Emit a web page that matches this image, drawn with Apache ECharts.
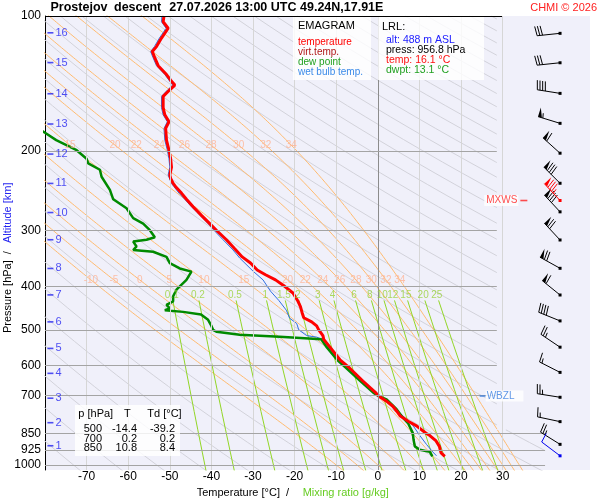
<!DOCTYPE html>
<html>
<head>
<meta charset="utf-8">
<script src="https://cdn.jsdelivr.net/npm/echarts@6/dist/echarts.min.js"></script>
<style>
  html, body { margin: 0; background: #fff; }
  #chart { width: 600px; height: 500px; }
</style>
</head>
<body>
<div id="chart"></div>
<script>
// axes
const pressureTicks = [100, 200, 300, 400, 500, 600, 700, 850, 925, 1000];
const tempTicks = [-70, -60, -50, -40, -30, -20, -10, 0, 10, 20, 30];
const altKm = [1, 2, 3, 4, 5, 6, 7, 8, 9, 10, 11, 12, 13, 14, 15, 16];
const altP = [906, 805, 710, 625, 550, 480, 418, 365, 315, 274, 236, 203, 174, 149, 127, 109];

// diagram lines (labels of the reference curves)
const dryTheta = [190, 200, 210, 220, 230, 240, 250, 260, 270, 280, 290, 300, 310, 320, 330, 340, 350,
  360, 370, 380, 390, 400, 410, 420, 430, 440, 450, 460, 470, 480, 490, 500, 510, 520, 530, 540, 550,
  560, 570, 580, 590, 600, 610];
const moistThetaW = [-10, -5, 0, 5, 10, 15, 20, 22, 24, 26, 28, 30, 32, 34];
const mixRatios = [0.1, 0.2, 0.5, 1, 1.5, 2, 3, 4, 6, 8, 10, 12, 15, 20, 25];

// sounding
const tempP = [956.8, 952, 940, 925, 909, 884, 860, 850, 818, 800, 778, 760, 740, 720, 703, 692, 650, 608,
  583, 545, 525, 515, 500, 490, 480, 470, 458, 444, 430, 414, 400, 387, 377, 368, 355, 344, 330, 315, 300,
  290, 278, 266, 256, 248, 240, 236, 230, 226, 217, 208, 199, 189, 178, 172, 166, 160, 151, 146, 142.5,
  139, 135, 129, 124, 120, 117, 112, 106.5, 103, 100];
const tempT = [16.1, 15.7, 15.2, 15.0, 14.8, 14.0, 12.5, 11.6, 9.3, 7.4, 5.4, 4.6, 3.6, 2.0, 0.3, -0.4, -3.6, -6.8,
  -9.1, -11.6, -13.0, -13.2, -14.2, -14.7, -15.9, -17.8, -18.2, -18.6, -19.3, -20.4, -22.4, -24.6, -27.0, -29.0,
  -30.6, -32.6, -34.4, -36.4, -38.8, -40.4, -42.4, -44.4, -46.0, -47.2, -48.6, -49.2, -49.8, -50.0, -49.6,
  -49.8, -50.2, -50.8, -51.0, -50.2, -51.2, -51.6, -51.6, -50.0, -48.8, -49.8, -50.8, -52.8, -53.6, -54.2,
  -53.2, -52.0, -50.4, -51.6, -51.4];
const wetP = [954, 935, 900, 860, 818, 780, 727, 703, 692, 650, 608, 583, 545, 525, 519, 515, 500, 484, 471,
  452, 430, 410, 387, 370, 346, 332, 315, 300, 290, 275, 266, 256, 248, 240, 236, 226, 217, 208, 199, 189,
  178, 172, 166, 160, 151, 146, 142.5, 139, 135, 129, 124, 120, 117, 112, 106.5, 103, 100];
const wetT = [14.1, 13.2, 11.7, 10.1, 8.5, 6.2, 2.9, 0.2, -0.6, -3.9, -7.1, -9.4, -12.0, -13.3, -14.7, -17.1,
  -19.0, -19.5, -21.2, -22.0, -23.8, -25.8, -27.6, -30.0, -33.2, -34.8, -37.2, -39.4, -40.8, -43.2, -44.8,
  -46.4, -47.8, -49.0, -49.6, -50.4, -50.0, -50.2, -50.6, -51.2, -51.4, -50.6, -51.6, -52.0, -52.0, -50.5,
  -49.3, -50.2, -51.2, -53.2, -54.0, -54.6, -53.7, -52.5, -50.9, -52.0, -51.9];
const dewP = [956.8, 952, 935, 925, 909, 880, 848, 808, 780, 751, 714, 703, 692, 650, 608, 583, 545, 525, 520,
  518, 513, 505, 500, 490, 475, 462, 456, 452, 448, 440, 432, 421, 407, 400, 387, 371, 365, 355, 344, 335,
  332, 326, 318, 315, 311, 300, 290, 282, 268, 256, 244, 228, 220, 213, 208, 199, 189, 182, 175];
const dewT = [13.1, 13.3, 12.5, 10.1, 8.9, 8.6, 8.4, 7.3, 5.8, 4.5, 2.1, 0.2, -0.9, -4.2, -7.6, -9.8, -12.4,
  -13.6, -14.0, -23.6, -33.2, -38.8, -39.6, -40.0, -40.8, -42.5, -46.8, -51.2, -50.0, -50.8, -49.2, -49.2,
  -48.4, -47.6, -46.0, -44.8, -47.6, -50.0, -50.8, -54.0, -58.8, -58.0, -58.8, -55.6, -53.6, -54.8, -56.4,
  -58.8, -60.4, -63.6, -64.4, -66.4, -66.8, -69.6, -70.0, -72.4, -77.3, -80.0, -83.0];

// wind barbs (hPa, deg, kt)
const windP = [109.3, 127.1, 148.7, 173.4, 202.1, 235.8, 273, 315.4, 364.7, 418.2, 477.6, 546.5, 621.9, 706.6, 800.6, 899.5];
const windDir = [264, 264, 279, 287, 312, 315, 317, 317, 299, 309, 292, 304, 297, 279, 282, 302];
const windSpd = [30, 30, 40, 55, 60, 80, 80, 70, 70, 60, 40, 25, 15, 25, 15, 25];
const maxWind = [257.6, 317, 85];
const sfcWind = [954, 307, 10];

const FONT = '"Liberation Sans", Arial, sans-serif';
const BG = '#f0f0fa';
const barbX = 43.8;

// thermodynamic reference curves
function satMix(tK, p) {
  const tc = tK - 273.15;
  const es = 6.112 * Math.exp(17.67 * tc / (tc + 243.5));
  return 0.622 * es / (p - es);
}
function moistLapse(tK, p) {
  const rs = satMix(tK, p);
  const Rd = 287.04, cp = 1005.7, L = 2.501e6;
  return (Rd * tK + L * rs) / (cp + L * L * rs * 0.622 / (Rd * tK * tK));
}
function rk(t, lp, h) {
  const k1 = moistLapse(t, Math.exp(lp));
  const k2 = moistLapse(t + h * k1, Math.exp(lp + h));
  return t + h * (k1 + k2) / 2;
}
function moistCurve(tw) {
  const h = 0.01;
  const pts = [[tw, 1000]];
  let t = tw + 273.15, lp = Math.log(1000);
  for (let k = 0; k < 4; k++) { t = rk(t, lp, h); lp += h; pts.push([t - 273.15, Math.exp(lp)]); }
  t = tw + 273.15; lp = Math.log(1000);
  while (lp > Math.log(100) - 0.005) { t = rk(t, lp, -h); lp -= h; pts.push([t - 273.15, Math.exp(lp)]); }
  return pts.sort((a, b) => a[1] - b[1]);
}
const curveP = [];
for (let i = 0; i <= 41; i++) curveP.push(100 * Math.pow(10, i / 40));
function dryCurve(th) { return curveP.map(p => [th * Math.pow(p / 1000, 0.2857) - 273.15, p]); }
function mixT(w, p) {
  const a = Math.log(w * p / (622 + w) / 6.112);
  return 243.5 * a / (17.67 - a);
}
const mixP = [430, 480, 540, 600, 680, 760, 835, 850, 940, 1030];
function tAtP(curve, p) {
  for (let i = 1; i < curve.length; i++) {
    const [t0, p0] = curve[i - 1], [t1, p1] = curve[i];
    if ((p0 - p) * (p1 - p) <= 0) {
      const f = Math.log(p / p0) / Math.log(p1 / p0);
      return t0 + f * (t1 - t0);
    }
  }
  return null;
}

// keep the diagram lines out of the wind panel: right edge at 28.6 C above 835 hPa, 40.2 C below
const PANEL_P = 835;
function clipPart(pts, lim) {
  const out = [];
  for (let i = 0; i < pts.length; i++) {
    const inside = pts[i][0] <= lim;
    if (i > 0) {
      const prevIn = pts[i - 1][0] <= lim;
      if (inside !== prevIn) {
        const [t0, p0] = pts[i - 1], [t1, p1] = pts[i];
        const f = (lim - t0) / (t1 - t0);
        out.push([lim, p0 * Math.pow(p1 / p0, f)]);
      }
    }
    if (inside) out.push(pts[i]);
  }
  return out;
}
function clipCurve(curve) {
  const tc = tAtP(curve, PANEL_P);
  const upper = curve.filter(q => q[1] < PANEL_P);
  const lower = curve.filter(q => q[1] > PANEL_P);
  if (tc !== null) { upper.push([tc, PANEL_P]); lower.unshift([tc, PANEL_P]); }
  return [clipPart(upper, 28.6), clipPart(lower, 40.2)].filter(s => s.length > 1);
}

const pair = (ps, ts) => ps.map((p, i) => [ts[i], p]);
const thin = (data, color, width, z) => ({
  type: 'line', data, symbol: 'none', silent: true, z,
  lineStyle: { color, width }
});

const series = [];
const addClipped = (curve, color) => clipCurve(curve).forEach(s => series.push(thin(s, color, 1, 1)));
dryTheta.forEach(th => addClipped(dryCurve(th), '#d2d2da'));
const moistCurves = moistThetaW.map(tw => moistCurve(tw));
moistCurves.forEach(c => addClipped(c, '#ffbb70'));
mixRatios.forEach(w => addClipped(mixP.map(p => [mixT(w, p), p]), '#92d626'));

// isotherms and isobars
series.push({
  type: 'line', data: [[-80, 100]], symbol: 'none', lineStyle: { width: 0 }, z: 3, silent: true,
  markLine: {
    silent: true, symbol: ['none', 'none'], label: { show: false },
    lineStyle: { type: 'solid', width: 1 },
    data: tempTicks.map(t => ({ xAxis: t, lineStyle: { color: t === 0 ? '#8c8c8c' : '#d6d6d6' } }))
      .concat(pressureTicks.map(p => [
        { coord: [-80, p], lineStyle: { color: p === 100 ? '#000' : '#a4a4a4' } },
        { coord: [p === 100 ? 30 : (p >= 850 ? 40.2 : 28.6), p] }
      ]))
  }
});

// curve labels
const label = (data, color, z) => ({
  type: 'scatter', data, symbolSize: 1, z, silent: true,
  itemStyle: { color: 'rgba(0,0,0,0)' },
  label: { show: true, position: 'inside', color, fontSize: 10, formatter: q => q.data[2] }
});
const moistLabels = [];
moistCurves.forEach((c, i) => {
  const t1 = tAtP(c, 194);
  if (t1 !== null && t1 > -78) moistLabels.push([t1, 194, String(moistThetaW[i])]);
  const t2 = tAtP(c, 387);
  if (t2 !== null && t2 > -78) moistLabels.push([t2, 387, String(moistThetaW[i])]);
});
series.push(label(moistLabels, '#ffb394', 5));
series.push(label(mixRatios.map(w => [mixT(w, 418), 418, String(w)]), '#9ad23a', 5));

// sounding
series.push(thin(pair(wetP, wetT), '#2f6fe0', 1, 4));
series.push(thin(pair(dewP, dewT), '#008a00', 2.5, 4));
series.push(thin(pair(tempP, tempT), '#ff0000', 3, 4));

// altitude marks
series.push({
  type: 'scatter', z: 5, silent: true, symbol: 'rect', symbolSize: [6, 1.6],
  itemStyle: { color: '#2424f0' },
  data: altP.map((p, i) => [-78.7, p, altKm[i]]),
  label: { show: true, position: 'right', distance: 2, color: '#2424f0', fontSize: 11, formatter: q => q.data[2] }
});

// wind panel: own layer above the diagram
series.push({
  type: 'line', data: [[30, 100]], symbol: 'none', lineStyle: { width: 0 }, zlevel: 1, z: 1, silent: true,
  markArea: {
    silent: true, itemStyle: { color: BG },
    data: [
      [{ xAxis: 28.7, yAxis: 100 }, { xAxis: 51, yAxis: 835 }],
      [{ xAxis: 40.3, yAxis: 835 }, { xAxis: 51, yAxis: 1026 }]
    ]
  },
  markLine: {
    silent: true, symbol: ['none', 'none'], label: { show: false },
    lineStyle: { type: 'solid', width: 1, color: '#d6d6d6' },
    data: [[{ coord: [30, 100] }, { coord: [30, 835] }]]
  }
});

// MXWS / WBZL marks
series.push({
  type: 'scatter', zlevel: 1, z: 6, silent: true, symbol: 'rect', symbolSize: [7, 1.6],
  data: [
    { value: [35.1, maxWind[0]], itemStyle: { color: '#ff2020' },
      label: { show: true, position: 'left', distance: 2, formatter: 'MXWS', color: '#ff2020',
        fontSize: 10, backgroundColor: '#fff', padding: [1, 1, 0, 2] } },
    { value: [25.2, 702], itemStyle: { color: '#3a7ee0' }, symbolSize: [6, 1.6],
      label: { show: true, position: 'right', distance: 0, formatter: 'WBZL', color: '#3a7ee0',
        fontSize: 10, backgroundColor: '#fff', padding: [1, 9, 0, 1] } }
  ]
});

// wind barbs
const barbColors = ['#000', '#ff0000', '#0000ee'];
const barbData = windP.map((p, i) => [barbX, p, windDir[i], windSpd[i], 0]);
barbData.push([barbX, maxWind[0], maxWind[1], maxWind[2], 1]);
barbData.push([barbX, sfcWind[0], sfcWind[1], sfcWind[2], 2]);
series.push({
  type: 'custom', zlevel: 1, z: 7, silent: true, data: barbData,
  encode: { x: 0, y: 1 },
  renderItem: (params, api) => {
    const base = api.coord([api.value(0), api.value(1)]);
    const rad = api.value(2) * Math.PI / 180;
    const color = barbColors[api.value(4)];
    const ux = Math.sin(rad), uy = -Math.cos(rad);
    const vx = -uy, vy = ux;
    const L = 23, bl = 9.5, gap = 2.7;
    const tip = [base[0] + ux * L, base[1] + uy * L];
    const at = d => [tip[0] - ux * d, tip[1] - uy * d];
    const kids = [
      { type: 'line', shape: { x1: base[0], y1: base[1], x2: tip[0], y2: tip[1] }, style: { stroke: color, lineWidth: 1 } },
      { type: 'rect', shape: { x: base[0] - 1.5, y: base[1] - 1.5, width: 3, height: 3 }, style: { fill: color } }
    ];
    let rest = Math.round(api.value(3) / 5) * 5, d = 0;
    while (rest >= 50) {
      const a = at(d), b = at(d + 4);
      kids.push({ type: 'polygon', shape: { points: [a, b, [a[0] + vx * bl, a[1] + vy * bl]] }, style: { fill: color } });
      d += 5; rest -= 50;
    }
    while (rest >= 10) {
      const a = at(d);
      kids.push({ type: 'line', shape: { x1: a[0], y1: a[1], x2: a[0] + vx * bl + ux * 1.5, y2: a[1] + vy * bl + uy * 1.5 }, style: { stroke: color, lineWidth: 1 } });
      d += gap; rest -= 10;
    }
    if (rest >= 5) {
      if (d === 0) d = gap;
      const a = at(d);
      kids.push({ type: 'line', shape: { x1: a[0], y1: a[1], x2: a[0] + vx * bl * 0.5 + ux, y2: a[1] + vy * bl * 0.5 + uy }, style: { stroke: color, lineWidth: 1 } });
    }
    return { type: 'group', children: kids };
  }
});

// texts
const txt = (text, x, y, font, fill, align, extra) => Object.assign({
  type: 'text', x, y, z: 101,
  style: { text, font: font + ' ' + FONT, fill, align: align || 'left', textAlign: align || 'left',
    verticalAlign: 'middle', textVerticalAlign: 'middle' }
}, extra || {});
const box = (x, y, w, h) => ({ type: 'rect', z: 100, shape: { x, y, width: w, height: h },
  style: { fill: 'rgba(255,255,255,0.82)' } });

const graphic = [
  txt('Prostejov', 50.5, 7.5, 'bold 12.5px', '#000'),
  txt('descent', 114, 7.5, 'bold 12.5px', '#000'),
  txt('27.07.2026 13:00 UTC', 169.3, 7.5, 'bold 12.5px', '#000'),
  txt('49.24N,17.91E', 300, 7.5, 'bold 12.5px', '#000'),
  txt('CHMI \u00a9 2026', 597, 7.5, '11px', '#ff2020', 'right'),
  box(293, 17, 78, 63),
  txt('EMAGRAM', 298, 26, '11px', '#000'),
  txt('temperature', 298, 42.3, '10px', '#ff0000'),
  txt('virt.temp.', 298, 52.3, '10px', '#b01818'),
  txt('dew point', 298, 62, '10px', '#20a020'),
  txt('wet bulb temp.', 298, 72, '10px', '#3a8ae8'),
  box(378, 17, 106, 63),
  txt('LRL:', 382, 27.3, '11px', '#000'),
  txt('alt: 488 m ASL', 386, 40, '10.5px', '#2020ff'),
  txt('press: 956.8 hPa', 386, 50.5, '10.5px', '#000'),
  txt('temp: 16.1 \u00b0C', 386, 60.5, '10.5px', '#ff1010'),
  txt('dwpt: 13.1 \u00b0C', 386, 70.3, '10.5px', '#20a020'),
  box(75, 405, 105, 51),
  txt('p [hPa]', 78.3, 413.5, '11px', '#000'),
  txt('T', 127.3, 413.5, '11px', '#000', 'center'),
  txt('Td [\u00b0C]', 147.3, 413.5, '11px', '#000'),
  txt('500', 102, 429, '11px', '#000', 'right'),
  txt('-14.4', 137, 429, '11px', '#000', 'right'),
  txt('-39.2', 175, 429, '11px', '#000', 'right'),
  txt('700', 102, 438.5, '11px', '#000', 'right'),
  txt('0.2', 137, 438.5, '11px', '#000', 'right'),
  txt('0.2', 175, 438.5, '11px', '#000', 'right'),
  txt('850', 102, 448.3, '11px', '#000', 'right'),
  txt('10.8', 137, 448.3, '11px', '#000', 'right'),
  txt('8.4', 175, 448.3, '11px', '#000', 'right'),
  txt('Temperature [\u00b0C]  /', 196.7, 493, '11px', '#000'),
  txt('Mixing ratio [g/kg]', 302.7, 493, '11px', '#66cc22'),
  txt('Pressure [hPa]  /', 8, 333, '11px', '#000', 'left', { rotation: Math.PI / 2 }),
  txt('Altitude [km]', 8, 243, '11px', '#2424f0', 'left', { rotation: Math.PI / 2 })
];

const chart = echarts.init(document.getElementById('chart'));
chart.setOption({
  animation: false,
  textStyle: { fontFamily: FONT },
  grid: { left: 45, right: 10, top: 16, bottom: 30, show: true, backgroundColor: BG, borderWidth: 0 },
  xAxis: {
    type: 'value', min: -80, max: 51, interval: 10,
    axisLine: { show: false }, axisTick: { show: false }, splitLine: { show: false },
    axisLabel: { margin: 1, color: '#000', fontSize: 12,
      formatter: v => (v >= -70 && v <= 30) ? String(v) : '' }
  },
  yAxis: {
    type: 'log', logBase: 10, inverse: true, min: 100, max: 1026,
    axisLine: { show: true, onZero: false, lineStyle: { color: '#000', width: 1 } },
    axisTick: { show: false }, splitLine: { show: false }, minorSplitLine: { show: false },
    axisLabel: { customValues: pressureTicks, margin: 4, color: '#000', fontSize: 12,
      formatter: v => String(Math.round(v)) }
  },
  series,
  graphic
});
window.addEventListener('resize', () => chart.resize());
</script>
</body>
</html>
